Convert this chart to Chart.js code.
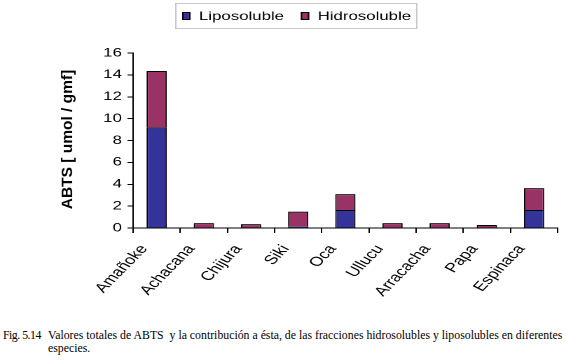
<!DOCTYPE html>
<html>
<head>
<meta charset="utf-8">
<script src="https://cdn.jsdelivr.net/npm/chart.js@4.4.1/dist/chart.umd.min.js"></script>
<style>
  body { margin: 0; background: #fff; width: 566px; height: 360px; overflow: hidden; position: relative; }
  #chart { position: absolute; left: 0; top: 0; }
  #cap { position: absolute; left: 3px; top: 329px; width: 563px; white-space: nowrap;
         font: 11.8px "Liberation Serif", "Times New Roman", serif; line-height: 13px; color: #000; }
  #cap .fig { position: absolute; left: 0; top: 0; letter-spacing: -0.5px; }
  #cap .txt { display: block; margin-left: 45px; }
</style>
</head>
<body>
<!-- the original picture is stretched sideways, so the chart is drawn narrower and widened by css -->
<canvas id="chart" width="404" height="315" style="width:566px;height:315px"></canvas>
<div id="cap"><span class="fig">Fig. 5.14</span><span class="txt">Valores totales de ABTS&nbsp; y la contribución a ésta, de las fracciones hidrosolubles y liposolubles en diferentes<br>especies.</span></div>
<script>
const categories = ['Amañoke', 'Achacana', 'Chijura', 'Siki', 'Oca', 'Ullucu', 'Arracacha', 'Papa', 'Espinaca'];
const liposoluble = [9.2, 0.05, 0.05, 0.15, 1.65, 0.05, 0.05, 0.03, 1.65];
const hidrosoluble = [5.15, 0.4, 0.3, 1.35, 1.45, 0.4, 0.4, 0.25, 2.0];
const yTicks = [0, 2, 4, 6, 8, 10, 12, 14, 16];
const yTitle = 'ABTS [ umol / gmf]';

const font = '"Liberation Sans", Arial, sans-serif';
const stretch = 566 / 404;

// legend in a grey frame, like the excel one
const boxLegend = {
  id: 'boxLegend',
  afterDraw(chart) {
    const ctx = chart.ctx;
    ctx.save();
    ctx.strokeStyle = '#c8c8c8';
    ctx.lineWidth = 1;
    ctx.strokeRect(125.5, 3.5, 172, 25);
    ctx.font = '12px ' + font;
    ctx.textBaseline = 'middle';
    let x = 130;
    chart.data.datasets.forEach(ds => {
      ctx.fillStyle = ds.backgroundColor;
      ctx.fillRect(x, 12, 6, 8);
      ctx.strokeStyle = '#000';
      ctx.strokeRect(x + 0.5, 12.5, 5, 7);
      ctx.fillStyle = '#000';
      ctx.fillText(ds.label, x + 12, 16.5);
      x += 12 + ctx.measureText(ds.label).width + 12;
    });
    ctx.restore();
  }
};

// y title drawn by hand so the sideways stretch doesn't make it fat
const yTitlePlugin = {
  id: 'yTitle',
  afterDraw(chart) {
    const ctx = chart.ctx;
    const area = chart.chartArea;
    ctx.save();
    ctx.translate(48.5, (area.top + area.bottom) / 2 - 1);
    ctx.scale(1 / stretch, 1);
    ctx.rotate(-Math.PI / 2);
    ctx.font = 'bold 15.5px ' + font;
    ctx.fillStyle = '#000';
    ctx.textAlign = 'center';
    ctx.textBaseline = 'middle';
    ctx.fillText(yTitle, 0, 0);
    ctx.restore();
  }
};

new Chart(document.getElementById('chart'), {
  type: 'bar',
  data: {
    labels: categories,
    datasets: [{
      label: 'Liposoluble',
      data: liposoluble,
      backgroundColor: '#333399',
      borderColor: '#000',
      borderWidth: 1
    }, {
      label: 'Hidrosoluble',
      data: hidrosoluble,
      backgroundColor: '#993366',
      borderColor: '#000',
      borderWidth: 1
    }]
  },
  plugins: [boxLegend, yTitlePlugin],
  options: {
    responsive: false,
    devicePixelRatio: 2,
    animation: false,
    categoryPercentage: 1,
    barPercentage: 0.43,
    layout: { padding: { top: 53, right: 6, left: 0, bottom: 0 } },
    plugins: {
      legend: { display: false },
      tooltip: { enabled: false }
    },
    scales: {
      x: {
        stacked: true,
        grid: { offset: true, drawOnChartArea: false, tickLength: 5, color: '#000' },
        border: { color: '#000' },
        ticks: {
          autoSkip: false,
          minRotation: 54.5,
          maxRotation: 54.5,
          labelOffset: -9,
          padding: 9,
          color: '#000',
          font: { family: font, size: 13 }
        },
        afterFit(scale) { scale.height = 87; }
      },
      y: {
        stacked: true,
        min: 0,
        max: 16,
        afterBuildTicks(scale) { scale.ticks = yTicks.map(v => ({ value: v })); },
        grid: { drawOnChartArea: false, tickLength: 4, color: '#000' },
        border: { color: '#000' },
        ticks: { padding: 4, color: '#000', font: { family: font, size: 12 } },
        afterFit(scale) { scale.width = 95; }
      }
    }
  }
});
</script>
</body>
</html>
